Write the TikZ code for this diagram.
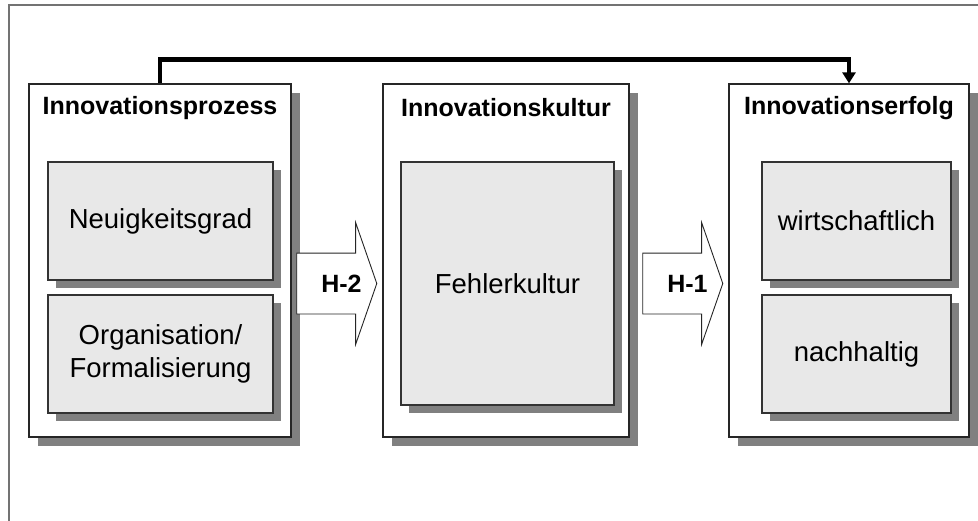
\documentclass[tikz,border=0pt]{standalone}
\usepackage{fontspec}
\setmainfont{Liberation Sans}
\usetikzlibrary{shadows,shapes.arrows,arrows.meta}

\definecolor{shadegray}{rgb}{0.5, 0.5, 0.5}
\definecolor{fillgray}{rgb}{0.91, 0.91, 0.91}
\definecolor{framegray}{rgb}{0.45, 0.45, 0.45}
\tikzset{outerbox/.style={draw=black!85, line width=1.3pt, fill=white, inner sep=0pt, minimum height=353pt,
    drop shadow={shadow xshift=9pt, shadow yshift=-9pt, fill=shadegray, opacity=1}}}
\tikzset{innerbox/.style={draw=black!80, line width=1.3pt, fill=fillgray, inner sep=0pt, align=center,
    font=\fontsize{27.5}{33}\selectfont,
    drop shadow={shadow xshift=8pt, shadow yshift=-8pt, fill=shadegray, opacity=1}}}
\tikzset{boxtitle/.style={inner sep=0pt, font=\fontsize{25}{28}\selectfont\bfseries}}
\tikzset{hyp/.style={draw=black!85, line width=0.9pt, fill=white, single arrow, inner xsep=0pt, inner ysep=21pt,
    text height=18pt, text depth=0pt,
    single arrow head extend=30.5pt, single arrow tip angle=141.7, minimum height=80pt,
    font=\fontsize{25}{28}\selectfont\bfseries}}
\tikzset{link/.style={line width=4.5pt, -{Triangle[width=13pt, length=11pt]}}}
\newcommand{\hyptext}[1]{\makebox[0pt]{\hspace*{20pt}#1}}

\begin{document}
\begin{tikzpicture}[x=1pt, y=-1pt]
        \useasboundingbox (0, 0) rectangle (978, 520);
        \draw [framegray, line width=1.5pt] (9, 5) rectangle (995, 535);

        % the three columns
        \node[outerbox, minimum width=262pt] (Bp) at (160, 260.5) {};
        \node[outerbox, minimum width=246pt] (Bk) at (506, 260.5) {};
        \node[outerbox, minimum width=240pt] (Be) at (849, 260.5) {};

        \node[boxtitle] (Tp) at ([yshift=-24.5pt]Bp.north) {Innovationsprozess};
        \node[boxtitle] (Tk) at ([yshift=-24.5pt]Bk.north) {Innovationskultur};
        \node[boxtitle] (Te) at ([yshift=-24.5pt]Be.north) {Innovationserfolg};

        \node[innerbox, minimum width=225pt, minimum height=118pt] (Pa) at (160.5, 221) {Neuigkeitsgrad};
        \node[innerbox, minimum width=225pt, minimum height=118pt] (Pb) at (160.5, 354) {Organisation/\\Formalisierung};
        \node[innerbox, minimum width=213pt, minimum height=243pt] (Ka) at (507.5, 283.5) {Fehlerkultur};
        \node[innerbox, minimum width=189pt, minimum height=118pt] (Ea) at (856.5, 221) {wirtschaftlich};
        \node[innerbox, minimum width=189pt, minimum height=118pt] (Eb) at (856.5, 354) {nachhaltig};

        % hypotheses
        \node[hyp] (H2) at (331.5, 283.5) {\hyptext{H-2}};
        \node[hyp] (H1) at (677.5, 283.5) {\hyptext{H-1}};

        \draw [link] (Bp.north) -- ++(0, -24) -| (Be.north);

    \end{tikzpicture}
\end{document}
